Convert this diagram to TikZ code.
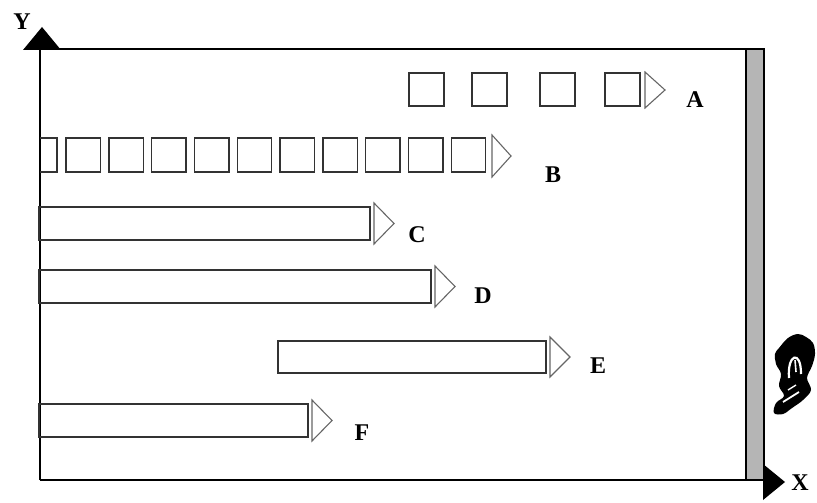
\documentclass[tikz,border=0pt]{standalone}
\usepackage{fontspec}
\setmainfont{Liberation Serif}
\usepackage{tikz}

\begin{document}
\begin{tikzpicture}[
  x=0.5pt,y=-0.5pt,
  frame/.style={line width=0.7pt,black},
  bar/.style={line width=0.7pt,black!80},
  head/.style={line width=0.55pt,black!60,line join=miter},
  tag/.style={font=\fontsize{12}{13}\selectfont\bfseries,inner sep=0pt}
]
  \useasboundingbox (0,0) rectangle (817,502);

  % Axes and the wall on the right
  \draw[frame] (40,480) -- (40,49) -- (746,49);
  \draw[frame] (40,480) -- (764,480);
  \draw[frame,fill=black!29] (746,49) rectangle (764,480);
  \fill (42,27) -- (23,50) -- (61,50) -- cycle;
  \fill (763,464) -- (785,482) -- (763,500) -- cycle;
  \node[tag] (ylab) at (22,22) {Y};
  \node[tag] (xlab) at (800,483) {X};

  % Row A: four separate squares
  \foreach \x in {409,472,540,605}
    \draw[bar] (\x,73) rectangle ++(35,33);
  \draw[head] (645,72) -- (665,90) -- (645,108) -- cycle;
  \node[tag] (lA) at (695,100) {A};

  % Row B: a tight train of squares, the first one cut by the axis
  \draw[bar] (40,138) -| (57,172) -- (40,172);
  \foreach \i in {0,...,9}
    \draw[bar] (66+42.8*\i,138) rectangle ++(34.5,34);
  \draw[head] (492,135) -- (511,156) -- (492,177) -- cycle;
  \node[tag] (lB) at (553,175) {B};

  % Rows C--F: long bars, each with its head
  \foreach \name/\l/\t/\b/\r/\lx/\ly in {
      C/39/207/240/370/417/235,
      D/39/270/303/431/483/296,
      E/278/341/373/546/598/366,
      F/39/404/437/308/362/433} {
    \draw[bar] (\l,\t) rectangle (\r,\b);
    \draw[head] (\r+4,\t-4) -- (\r+24,{(\t+\b)/2}) -- (\r+4,\b+4) -- cycle;
    \node[tag] (l\name) at (\lx,\ly) {\name};
  }

  % Ink blot beside the wall
  \fill plot[smooth cycle,tension=0.6] coordinates {
    (779,348) (788,338) (798,334) (806,337) (813,343) (815,354)
    (812,366) (807,378) (811,390) (803,400) (792,408) (783,414)
    (774,413) (776,403) (784,396) (779,386) (781,374) (776,364) (775,354) };
  \draw[white,line width=1.1pt] (789,378) .. controls (787,354) and (801,349) .. (801,374);
  \draw[white,line width=0.8pt] (795,360) -- (796,372);
  \draw[white,line width=0.9pt] (783,402) -- (799,392);
  \draw[white,line width=0.7pt] (788,390) -- (796,385);
\end{tikzpicture}
\end{document}
